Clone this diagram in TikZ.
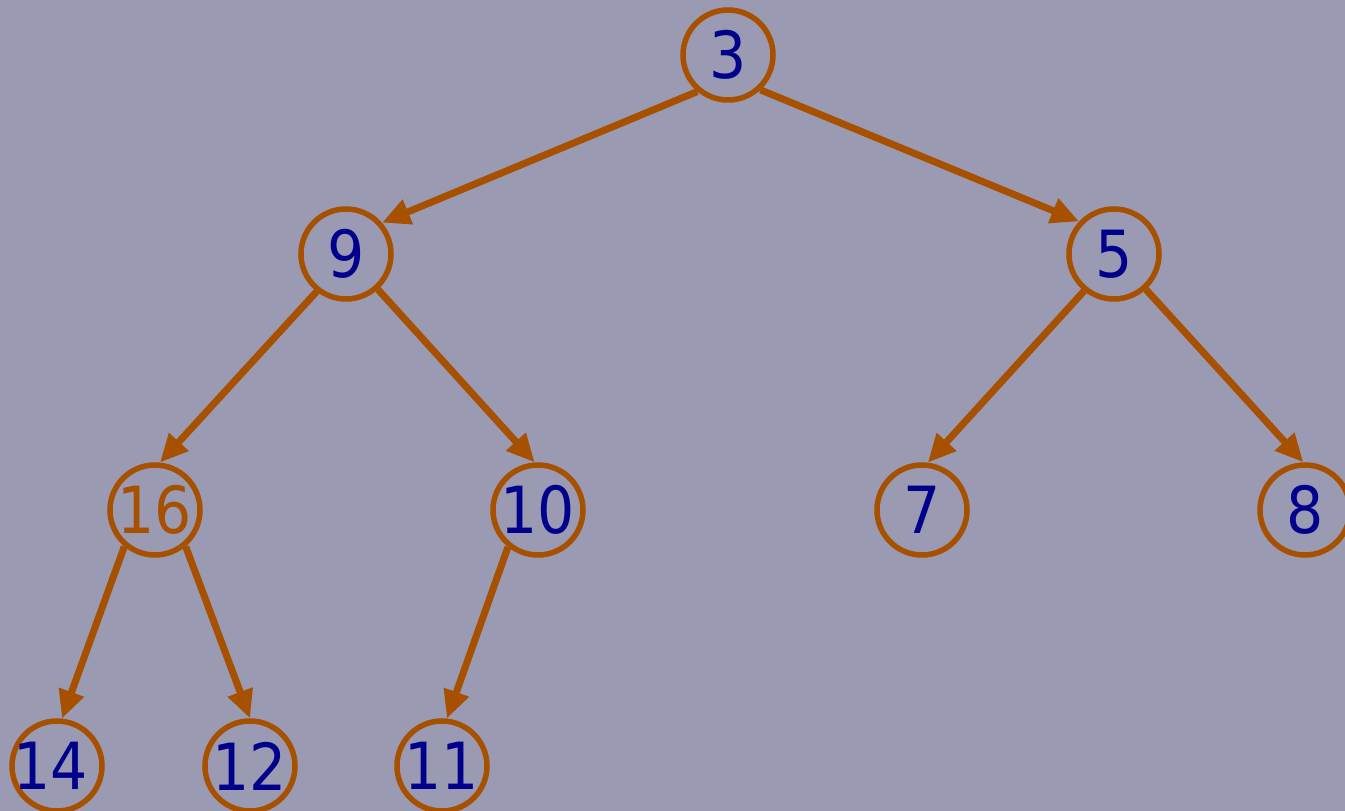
\documentclass[tikz,border=0pt]{standalone}
\usepackage{fontspec}
\setmainfont{DejaVu Sans Condensed}
\usetikzlibrary{arrows.meta}
\definecolor{bgcol}{HTML}{9A9AB2}
\definecolor{edgecol}{HTML}{A65000}
\definecolor{keycol}{HTML}{00008C}
\tikzset{
  key/.style={circle, draw=edgecol, line width=5.5pt, minimum size=90pt, inner sep=0pt,
    text=keycol, font=\fontsize{65}{65}\selectfont},
  hot/.style={key, text=edgecol},
  link/.style={draw=edgecol, line width=7pt,
    -{Triangle[length=28pt,width=25pt]}},
}
\begin{document}
\begin{tikzpicture}[x=1pt,y=1pt]
  \fill[bgcol] (0,0) rectangle (1345,811);
  \useasboundingbox (0,0) rectangle (1345,811);
  % heap nodes (y measured upward)
  \node[key] (n3)  at (728,756) {3};
  \node[key] (n9)  at (346,557) {9};
  \node[key] (n5)  at (1114,557) {5};
  \node[hot] (n16) at (155,301) {16};
  \node[key] (n10) at (538,301) {10};
  \node[key] (n7)  at (922,301) {7};
  \node[key] (n8)  at (1305,301) {8};
  \node[key] (n14) at (57,45) {\hspace*{-12pt}14};
  \node[key] (n12) at (250,45) {12};
  \node[key] (n11) at (442,45) {11};
  % parent-to-child links
  \draw[link] (n3.230)  -- (n9.41);
  \draw[link] (n3.313)  -- (n5.137);
  \draw[link] (n9.232)  -- (n16.84);
  \draw[link] (n9.312)  -- (n10.94);
  \draw[link] (n5.231)  -- (n7.83);
  \draw[link] (n5.312)  -- (n8.92);
  \draw[link] (n16.230) -- (n14.84);
  \draw[link] (n16.310) -- (n12.90);
  \draw[link] (n10.231) -- (n11.84);
\end{tikzpicture}
\end{document}
